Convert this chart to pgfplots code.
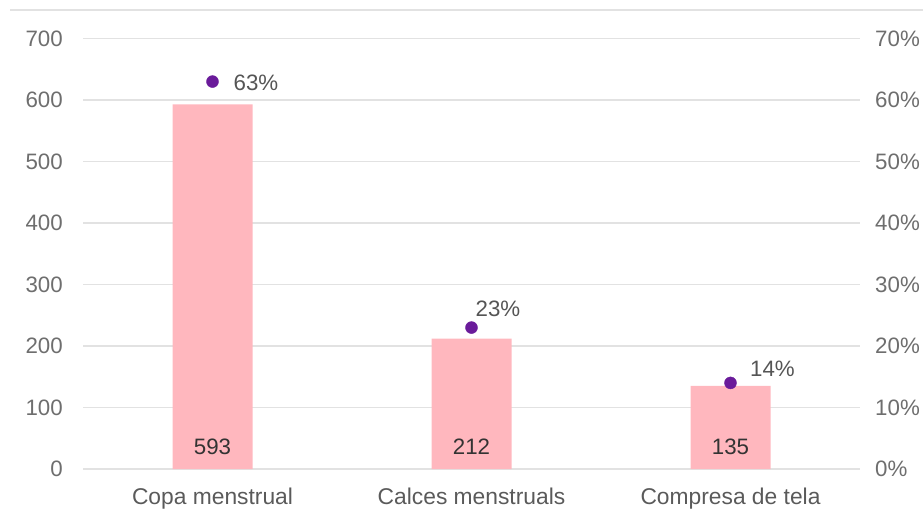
\documentclass[border=0pt]{standalone}
\usepackage{pgfplots}
\usepackage{pgfplotstable}
\pgfplotsset{compat=1.18}
\usepackage{fontspec}
\setmainfont{Liberation Sans}

\definecolor{barpink}{HTML}{FFB7BE}
\definecolor{dotpurple}{HTML}{6A1B9A}
\definecolor{gridgray}{HTML}{E2E2E2}
\definecolor{ticktext}{HTML}{6E6E6E}
\definecolor{cattext}{HTML}{5A5A5A}
\definecolor{valtext}{HTML}{333333}
\definecolor{pcttext}{HTML}{555555}

% counts per product (left axis)
\pgfplotstableread{
x n
0 593
1 212
2 135
}\counts

% share of answers (right axis), label offsets in pt
\pgfplotstableread{
x p dx dy
0 63 43.5 -1.5
1 23 26.5 18.5
2 14 42 14
}\shares

\begin{document}
\fontsize{22.3}{26}\selectfont%
\begin{tikzpicture}[x=1pt,y=1pt]

\pgfplotsset{every axis/.append style={
  scale only axis, width=777pt, height=430.5pt,
  xmin=-0.5, xmax=2.5, clip=false,
  axis line style={draw=none}, tick style={draw=none},
  /pgf/number format/assume math mode=true,
}}

\begin{axis}[
  axis x line*=bottom, axis y line*=left,
  ymin=0, ymax=700,
  xtick={0,1,2},
  xticklabels={Copa menstrual, Calces menstruals, Compresa de tela},
  ytick={0,100,...,700},
  ymajorgrids, grid style={gridgray, line width=1.2pt},
  yticklabel style={text=ticktext, inner sep=0pt, xshift=-20pt},
  xticklabel style={text=cattext, inner sep=0pt, yshift=-19pt,
    font=\fontsize{22.8}{26}\selectfont},
]
\addplot[ybar, bar width=80pt, fill=barpink, draw=none] table[x=x, y=n] {\counts};
\addplot[only marks, mark=none, point meta=explicit,
  nodes near coords,
  every node near coord/.append style={anchor=center, yshift=22.3pt, text=valtext}]
  table[x=x, y expr=0, meta=n] {\counts};
\end{axis}

\begin{axis}[
  axis x line=none, axis y line*=right,
  ymin=0, ymax=70,
  ytick={0,10,...,70},
  yticklabel={\pgfmathprintnumber{\tick}\%},
  yticklabel style={text=ticktext, inner sep=0pt, xshift=15pt},
]
\addplot[only marks, mark=*, mark size=6pt, color=dotpurple,
  visualization depends on={\thisrow{dx} \as \dx},
  visualization depends on={\thisrow{dy} \as \dy},
  nodes near coords={\pgfmathprintnumber{\pgfplotspointmeta}\%},
  every node near coord/.append style={anchor=center, xshift=\dx pt, yshift=\dy pt, text=pcttext}]
  table[x=x, y=p] {\shares};
\end{axis}

% frame of the reference picture, axis box at (83,46) of it
\draw[gridgray, line width=2pt] (-73,458.5) -- (840,458.5);
\pgfresetboundingbox
\path[use as bounding box] (-83,-46) rectangle (840,469);
\end{tikzpicture}%
\end{document}
